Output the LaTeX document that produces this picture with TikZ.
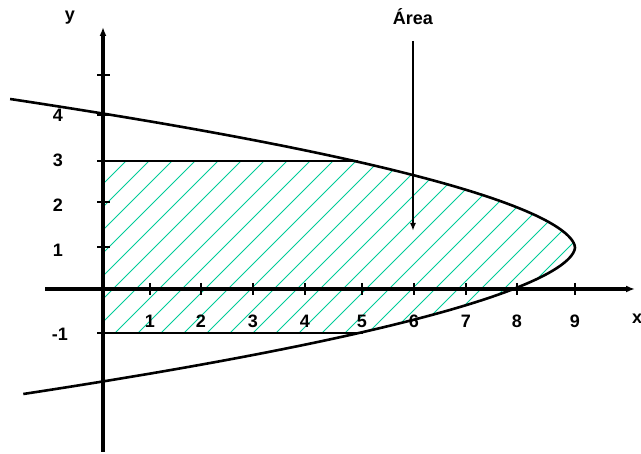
\documentclass[tikz,border=0pt]{standalone}
\usepackage{fontspec}
\setmainfont{Liberation Sans}
\usetikzlibrary{arrows.meta}
\definecolor{hatch}{RGB}{0,204,153}
\tikzset{
  axis/.style={line width=3.2pt,-{Latex[length=9pt,width=7pt]}},
  tickmark/.style={line width=1.8pt},
  curve/.style={line width=2.6pt},
  bound/.style={line width=1.2pt},
  hatchline/.style={hatch,line width=0.9pt},
  lbl/.style={font=\bfseries\fontsize{18}{20}\selectfont,inner sep=0pt},
}
\begin{document}
\begin{tikzpicture}[x=1pt,y=-1pt]
\useasboundingbox (0,0) rectangle (641,454);
% hatching
\begin{scope}
\clip (103,161) -- plot[domain=-86.5:85.5,samples=60] ({575-0.094*pow(abs(\x)+0.01,1.74)},{247.5+\x}) -- (103,333) -- cycle;
\foreach \k in {-9,...,20}{
  \draw[hatchline] ({448+23*\k-350},350) -- ({448+23*\k-140},140);
}
\end{scope}
% boundary lines
\coordinate (t0) at (103,161);
\coordinate (t1) at (358,161);
\coordinate (b0) at (103,333);
\coordinate (b1) at (363,333);
\draw[bound] (t0) -- (t1);
\draw[bound] (b0) -- (b1);
% axes
\coordinate (ys) at (103,452);
\coordinate (ye) at (103,27);
\coordinate (xs) at (45,289);
\coordinate (xe) at (635,289);
\draw[axis] (ys) -- (ye);
\draw[axis] (xs) -- (xe);
% ticks
\foreach \py in {75,115,161,202,247,333}{
  \draw[tickmark] (97,\py) -- (110,\py);
}
\foreach \px/\t in {150/1,201/2,253/3,305/4,362/5,414/6,466/7,517/8,575/9}{
  \draw[tickmark] (\px,283) -- (\px,295);
  \node[lbl] (xl\t) at (\px,321) {\t};
}
% curve
\draw[curve] plot[domain=-148.5:146.5,samples=120] ({575-0.094*pow(abs(\x)+0.01,1.74)},{247.5+\x});
% y labels
\node[lbl] (y4) at (58,115) {4};
\node[lbl] (y3) at (58,160) {3};
\node[lbl] (y2) at (58,205) {2};
\node[lbl] (y1) at (58,250) {1};
\node[lbl] (ym1) at (60,334) {-1};
\node[lbl] (ylab) at (70,18) {y};
\node[lbl,anchor=west] (xlab) at (632,319) {x};
% area label
\node[lbl] (area) at (413,17) {Área};
\coordinate (atip) at (413,231);
\draw[line width=1.6pt,-{Latex[length=8pt,width=6pt]}] (413,41) -- (atip);
\end{tikzpicture}
\end{document}
